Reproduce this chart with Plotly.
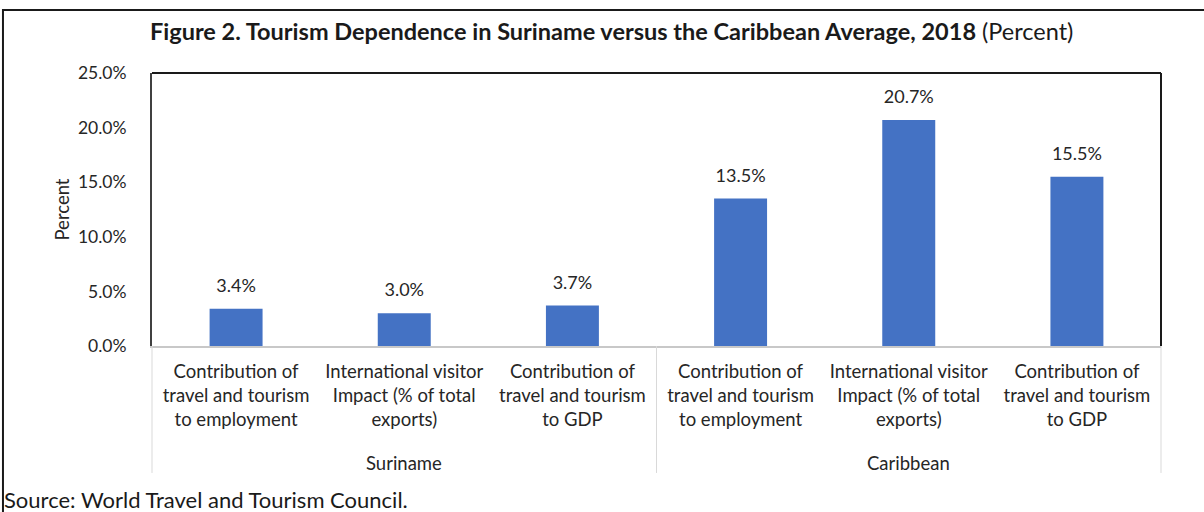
import plotly.graph_objects as go

regions = ["Suriname", "Caribbean"]
indicators = [
    "Contribution of<br>travel and tourism<br>to employment",
    "International visitor<br>Impact (% of total<br>exports)",
    "Contribution of<br>travel and tourism<br>to GDP",
] * 2
values = [3.4, 3.0, 3.7, 13.5, 20.7, 15.5]
y_ticks = [0, 5, 10, 15, 20, 25]

FONT = "Lato"
BLUE = "#4472C4"
TXT = "#262626"
pos = list(range(len(values)))

fig = go.Figure()

fig.add_trace(go.Bar(
    x=pos,
    y=values,
    marker=dict(color=BLUE, line=dict(width=0)),
    hoverinfo="skip",
))

# value labels sitting a bit above each bar
fig.add_trace(go.Scatter(
    x=pos,
    y=values,
    mode="markers+text",
    marker=dict(size=18, opacity=0),
    text=[f"{v:.1f}%" for v in values],
    textposition="top center",
    textfont=dict(family=FONT, size=18, color=TXT),
    hoverinfo="skip",
))

# plot area: black top / right edges
fig.add_shape(type="line", xref="paper", yref="paper", x0=0, x1=1, y0=1, y1=1,
              line=dict(color="#1a1a1a", width=2))
fig.add_shape(type="line", xref="paper", yref="paper", x0=1, x1=1, y0=0, y1=1,
              line=dict(color="#1a1a1a", width=2))

# group dividers under the axis
for xd in [0, 0.5, 1]:
    fig.add_shape(type="line", xref="paper", yref="paper", x0=xd, x1=xd, y0=0, y1=-0.465,
                  line=dict(color="#d9d9d9", width=1))
for i, r in enumerate(regions):
    fig.add_annotation(text=r, xref="paper", yref="paper", x=0.25 + 0.5 * i, y=-0.4286,
                       xanchor="center", yanchor="middle", showarrow=False,
                       font=dict(family=FONT, size=18.5, color=TXT))

# outer frame of the figure
fig.add_shape(type="rect", xref="paper", yref="paper",
              x0=-0.1477, x1=1.06, y0=-0.7, y1=1.2308,
              line=dict(color="#1a1a1a", width=2), layer="below")

fig.add_annotation(
    text="<b>Figure 2. Tourism Dependence in Suriname versus the Caribbean Average, 2018</b> (Percent)",
    xref="paper", yref="paper", x=0.455, y=1.154, xanchor="center", yanchor="middle",
    showarrow=False, font=dict(family=FONT, size=23.5, color="#1a1a1a"),
)
fig.add_annotation(
    text="Source: World Travel and Tourism Council.",
    xref="paper", yref="paper", x=-0.1487, y=-0.564, xanchor="left", yanchor="middle",
    showarrow=False, font=dict(family=FONT, size=22, color="#1a1a1a"),
)

fig.update_layout(
    width=1204, height=512,
    margin=dict(l=152, r=43, t=73, b=166),
    paper_bgcolor="white", plot_bgcolor="white",
    showlegend=False,
    bargap=0.685,
    font=dict(family=FONT, size=18, color=TXT),
)

fig.update_xaxes(
    range=[-0.5, 5.5], tickvals=pos, ticktext=indicators,
    showline=True, linecolor="#c8c8c8", linewidth=2,
    tickfont=dict(family=FONT, size=18.5, color=TXT),
    ticks="", showgrid=False, zeroline=False, ticklabelstandoff=8,
)
fig.update_yaxes(
    range=[0, 25], tickvals=y_ticks,
    ticktext=[f"{t:.1f}%" for t in y_ticks],
    showline=True, linecolor="#404040", linewidth=2,
    showgrid=False, zeroline=False, ticks="", ticklabelstandoff=20,
    tickfont=dict(family=FONT, size=17.5, color=TXT),
    title=dict(text="Percent", font=dict(family=FONT, size=18.5, color=TXT), standoff=3),
)

fig.write_html("out.html", config={"displayModeBar": False},
               post_script="document.body.style.margin='0';")
